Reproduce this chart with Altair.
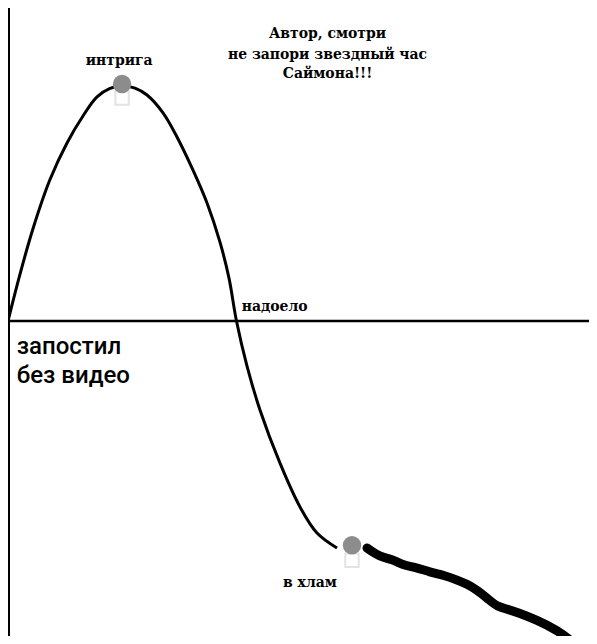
import altair as alt
import pandas as pd

# Thin curve: time vs. interest level
curve_x = [0, 2.04, 4.24, 7.13, 10.02, 12.73, 15.11, 17.32, 19.36, 21.56, 23.60, 26.32, 28.69, 31.41,
           33.79, 35.99, 37.52, 38.79, 40.58, 42.78, 46.18, 49.58, 52.46, 55.86]
curve_y = [0, 15.0, 29.5, 45.2, 56.9, 65.5, 71.6, 74.3, 75.2, 74.4, 72.2, 66.5, 58.8, 48.2,
           37.7, 25.2, 13.7, 0, -14.4, -28.4, -45.4, -59.4, -67.7, -72.5]

# Bold wavy tail
tail_x = [60.95, 63.16, 65.2, 67.06, 69.1, 71.65, 74.0, 76.23, 77.9, 79.63, 81.7, 83.0, 84.7,
          86.42, 89.81, 93.21, 95.93, 97.1]
tail_y = [-72.5, -75.4, -76.0, -78.0, -78.6, -80.2, -81.2, -82.7, -84.0, -85.9, -89.1, -91.1, -92.0,
          -93.0, -95.5, -98.7, -102.6, -104.5]

# Grey blobs (markers)
blob_x = [19.36, 58.4]
blob_y = [75.7, -71.6]
blob_low_y = [71.2, -76.4]

# Annotations (alphabetic baseline)
small_labels = ["интрига", "Автор, смотри", "не запори звездный час", "Саймона!!!", "в хлам"]
small_x = [18.88, 54.25, 54.25, 54.25, 51.27]
small_y = [81.9, 90.3, 83.7, 77.6, -85.0]

left_labels = ["надоело"]
left_x = [39.68]
left_y = [3.2]

big_labels = ["запостил", "без видео"]
big_x = [1.48, 1.48]
big_y = [-10.5, -19.8]

XMAX = 98.64
xs = alt.Scale(domain=[0, XMAX], nice=False, zero=False)
ys = alt.Scale(domain=[-100.6, 100], nice=False, zero=False)

curve = pd.DataFrame({"x": curve_x, "y": curve_y, "o": range(len(curve_x))})
tail = pd.DataFrame({"x": tail_x, "y": tail_y, "o": range(len(tail_x))})
blobs = pd.DataFrame({"x": blob_x, "y": blob_y})
blobs_low = pd.DataFrame({"x": blob_x, "y": blob_low_y})
small = pd.DataFrame({"x": small_x, "y": small_y, "t": small_labels})
left = pd.DataFrame({"x": left_x, "y": left_y, "t": left_labels})
big = pd.DataFrame({"x": big_x, "y": big_y, "t": big_labels})
axes_df = pd.DataFrame({"x": [0], "x2": [XMAX], "y": [0], "ylo": [-100.6], "yhi": [100]})

X = lambda: alt.X("x:Q", scale=xs, axis=None)
Y = lambda: alt.Y("y:Q", scale=ys, axis=None)

hline = alt.Chart(axes_df).mark_rule(color="black", strokeWidth=2.5).encode(
    x=alt.X("x:Q", scale=xs, axis=None), x2="x2:Q", y=alt.Y("y:Q", scale=ys, axis=None))
vline = alt.Chart(axes_df).mark_rule(color="black", strokeWidth=4).encode(
    x=alt.X("x:Q", scale=xs, axis=None), y=alt.Y("ylo:Q", scale=ys, axis=None), y2="yhi:Q")

line1 = alt.Chart(curve).mark_line(color="black", strokeWidth=3, interpolate="catmull-rom").encode(
    x=X(), y=Y(), order="o:Q")
line2 = alt.Chart(tail).mark_line(color="black", strokeWidth=9, interpolate="basis",
                                   strokeCap="round", strokeJoin="round", clip=True).encode(
    x=X(), y=Y(), order="o:Q")

blob_low = alt.Chart(blobs_low).mark_point(filled=False, shape="square", size=180, color="#d8d8d8",
                                           strokeWidth=2).encode(x=X(), y=Y())
blob = alt.Chart(blobs).mark_point(filled=True, shape="circle", size=340, color="#8c8c8c",
                                   opacity=1).encode(x=X(), y=Y())

SERIF = "'DejaVu Serif Condensed', 'DejaVu Serif', serif"
t_small = alt.Chart(small).mark_text(font=SERIF, fontSize=15.5, fontWeight="bold",
                                     align="center", baseline="alphabetic", color="black").encode(
    x=X(), y=Y(), text="t:N")
t_left = alt.Chart(left).mark_text(font=SERIF, fontSize=15.5, fontWeight="bold",
                                   align="left", baseline="alphabetic", color="black").encode(
    x=X(), y=Y(), text="t:N")
t_big = alt.Chart(big).mark_text(font="Roboto", fontSize=24, fontWeight=500,
                                 align="left", baseline="alphabetic", color="black").encode(
    x=X(), y=Y(), text="t:N")

chart = alt.layer(hline, vline, line1, line2, blob_low, blob, t_small, t_left, t_big).properties(
    width=581, height=628,
    autosize=alt.AutoSizeParams(type="none"),
    padding=0,
    background="white",
).configure_view(stroke=None)

chart.save("out.html", embed_options={"renderer": "svg", "actions": False})
